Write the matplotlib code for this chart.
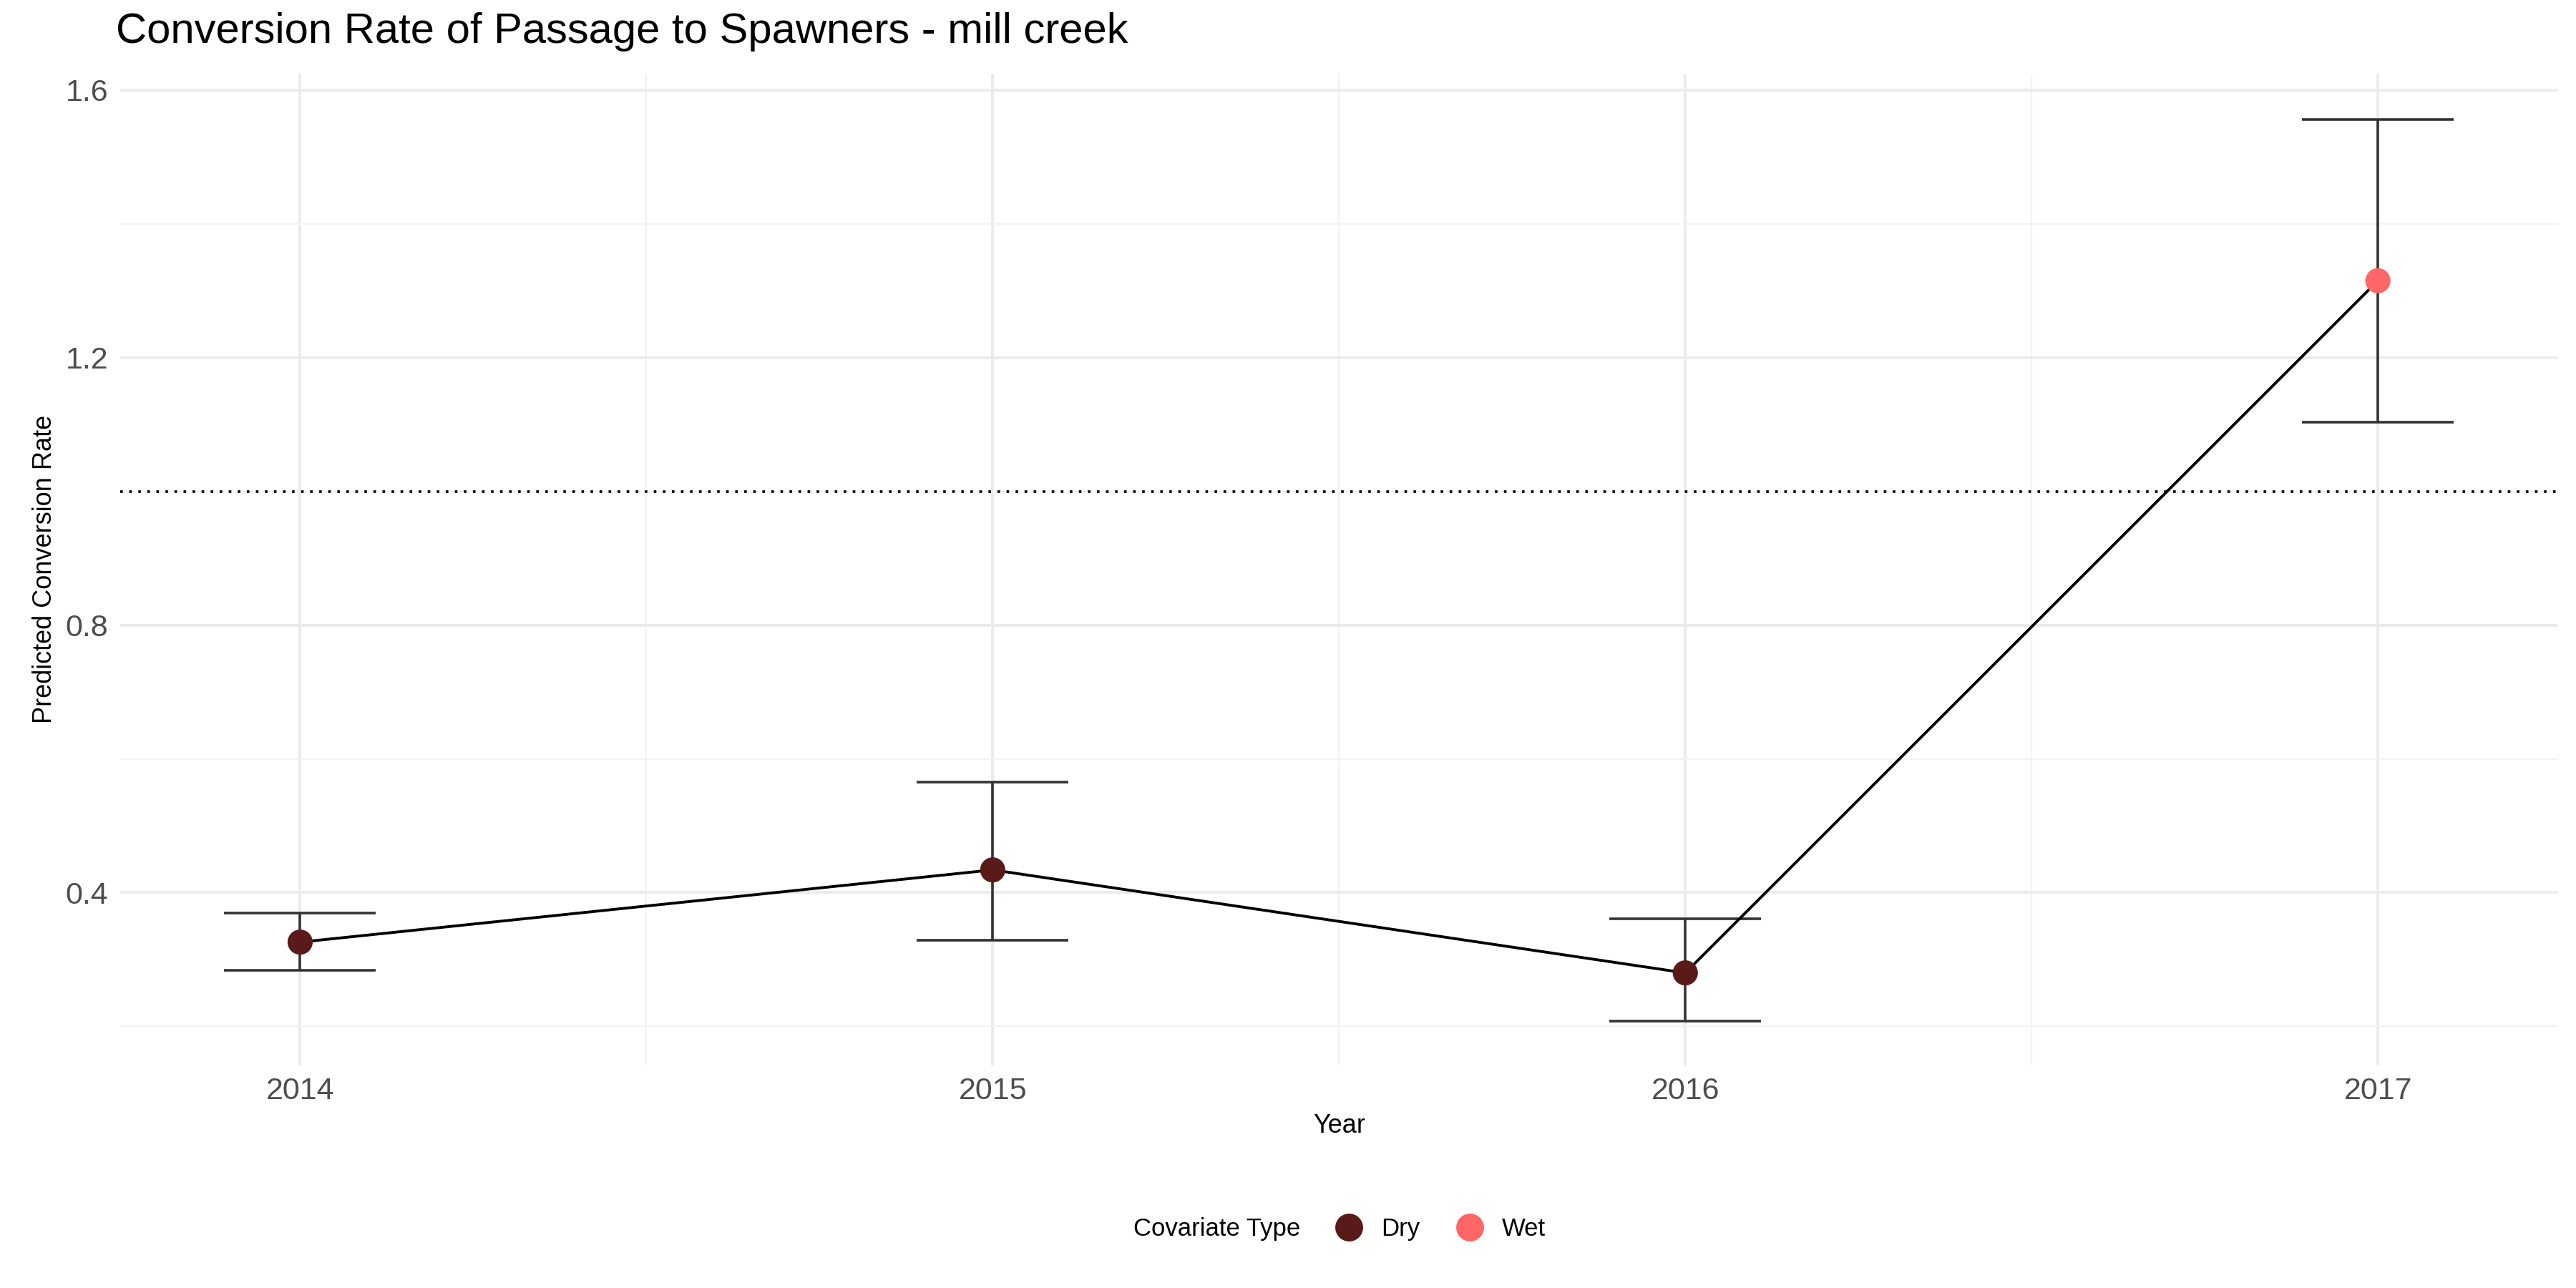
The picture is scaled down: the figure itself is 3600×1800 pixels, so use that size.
import matplotlib
matplotlib.use("Agg")
import matplotlib.pyplot as plt
from matplotlib.lines import Line2D
from matplotlib.offsetbox import HPacker

years = [2014, 2015, 2016, 2017]
rate = [0.326, 0.434, 0.280, 1.315]
lower = [0.284, 0.329, 0.208, 1.103]
upper = [0.370, 0.565, 0.361, 1.556]
cov_type = ["Dry", "Dry", "Dry", "Wet"]
colors = {"Dry": "#5A1A1A", "Wet": "#FF6666"}

plt.rcParams['font.family'] = ['Liberation Sans', 'DejaVu Sans']
fig = plt.figure(figsize=(18, 9), dpi=200)
ax = fig.add_axes([0.0466, 0.173, 0.9464, 0.770])

ax.set_xlim(2013.74, 2017.26)
ax.set_ylim(0.142, 1.625)
ax.set_yticks([0.4, 0.8, 1.2, 1.6])
ax.set_yticks([0.2, 0.6, 1.0, 1.4], minor=True)
ax.set_xticks(years)
ax.set_xticks([2014.5, 2015.5, 2016.5], minor=True)
ax.grid(which='major', color='#EBEBEB', linewidth=1.4)
ax.grid(which='minor', color='#F3F3F3', linewidth=0.8)
ax.set_axisbelow(True)
for s in ax.spines.values():
    s.set_visible(False)
ax.tick_params(which='both', length=0, labelsize=15.5, labelcolor='#4D4D4D', pad=6)

ax.axhline(1.0, color='black', linestyle=(0, (1, 2.5)), linewidth=1.3)
ax.errorbar(years, rate, yerr=[[r - l for r, l in zip(rate, lower)], [u - r for u, r in zip(upper, rate)]],
            fmt='none', ecolor='#333333', elinewidth=1.3, capsize=38, capthick=1.3, zorder=2)
ax.plot(years, rate, color='black', linewidth=1.4, zorder=3)
for x, y, c in zip(years, rate, cov_type):
    ax.scatter([x], [y], s=160, color=colors[c], zorder=4, edgecolors='none')

ax.set_xlabel("Year", fontsize=13)
ax.set_ylabel("Predicted Conversion Rate", fontsize=13)
fig.text(0.045, 0.96, "Conversion Rate of Passage to Spawners - mill creek", fontsize=21.5, va='bottom')

handles = [Line2D([], [], marker='o', linestyle='none', markersize=13, color=colors[k]) for k in ["Dry", "Wet"]]
leg = fig.legend(handles, ["Dry", "Wet"], loc='center', bbox_to_anchor=(0.52, 0.046), ncol=2, frameon=False,
                 fontsize=12.5, title="Covariate Type", title_fontsize=12.5, handletextpad=0.3, columnspacing=1.0)
box = leg._legend_box
box.__class__ = HPacker
box.sep = 12
box.align = "center"

fig.savefig("out.png", dpi=200, facecolor='white')
